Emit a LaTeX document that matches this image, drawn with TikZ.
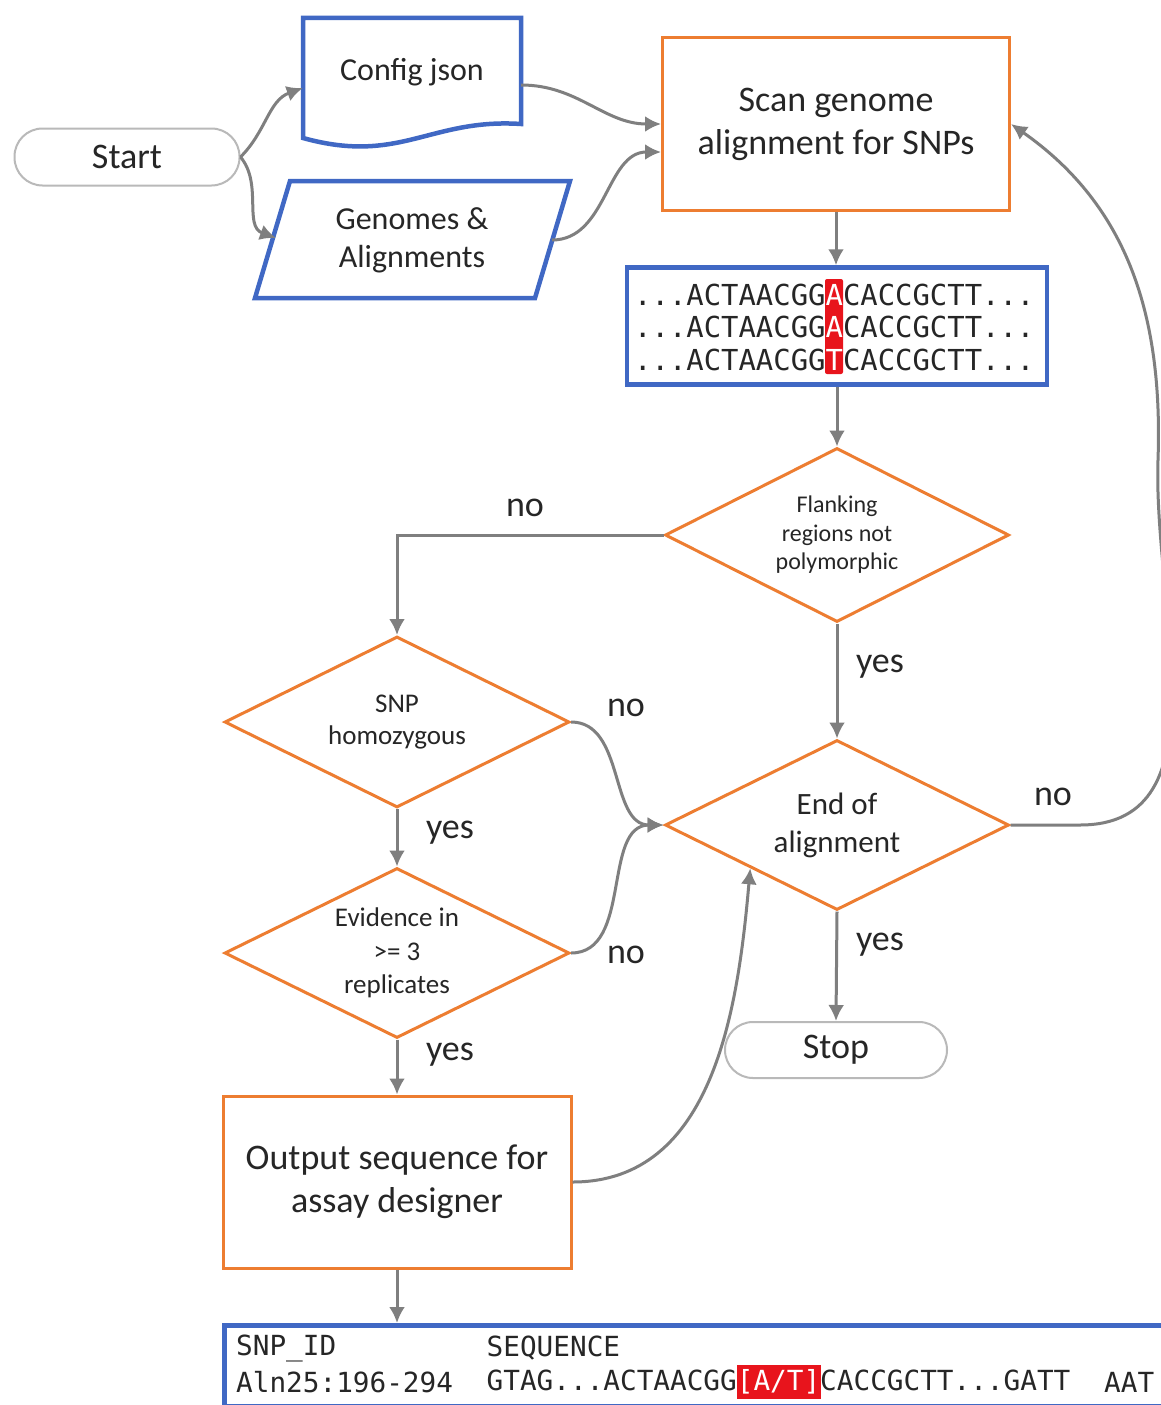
\documentclass[tikz,border=0pt]{standalone}
\usepackage{fontspec}
\setmainfont{Carlito}
\setmonofont{DejaVu Sans Mono}
\usetikzlibrary{shapes.geometric,arrows.meta}

\definecolor{boxorange}{HTML}{ED7D31}
\definecolor{boxblue}{HTML}{4068C4}
\definecolor{linegray}{HTML}{7F7F7F}
\definecolor{snpred}{HTML}{E8141C}

\tikzset{
  flow/.style={draw=linegray, line width=3pt, -{Latex[length=16pt,width=16pt]}},
  terminal/.style={draw=gray!55, line width=2pt, rounded corners=28pt, minimum width=225pt,
    minimum height=57pt, font=\fontsize{36}{40}\selectfont},
  process/.style={draw=boxorange, line width=3pt, minimum width=347pt, minimum height=173pt,
    align=center, font=\fontsize{36}{43}\selectfont},
  decision/.style={diamond, aspect=2, draw=boxorange, line width=3pt, minimum width=345pt,
    minimum height=171pt, inner sep=0pt, align=center},
  iobox/.style={draw=boxblue, line width=4.5pt},
  seqtext/.style={font=\ttfamily\fontsize{28.9}{32}\selectfont, inner sep=0pt, anchor=west},
  restext/.style={font=\ttfamily\fontsize{27.7}{32}\selectfont, inner sep=0pt, anchor=west},
  lbl/.style={font=\fontsize{36}{40}\selectfont},
}

\begin{document}
\begin{tikzpicture}[x=1pt,y=-1pt, every node/.append style={text=black!85}]
\useasboundingbox (0,0) rectangle (1161,1405);
\clip (0,0) rectangle (1161,1405);
\fill[white] (0,0) rectangle (1161,1405);

% inputs
\node[terminal] (start) at (127,157) {Start};
\node[font=\fontsize{32}{38}\selectfont, minimum width=218pt, inner sep=0pt] (cfg) at (412,72) {Config json};
\draw[iobox] (303,18) -- (521,18) -- (521,124) .. controls (430,118) and (400,165) .. (303,138) -- cycle;
\node[font=\fontsize{32}{38}\selectfont, align=center] (gen) at (412,240) {Genomes \&\\Alignments};
\draw[iobox] (255,298) -- (290,181) -- (570,181) -- (535,298) -- cycle;
\coordinate (genin) at (276,238);
\coordinate (genout) at (552,240);

% scanning
\node[process] (scan) at (836,124) {Scan genome\\alignment for SNPs};
\node[iobox, minimum width=420pt, minimum height=117pt] (aln) at (837,326) {};
\fill[snpred, rounded corners=2pt] (825,279) rectangle (843,374);
\node[seqtext] (alnA) at (634,295) {...ACTAACGG\textcolor{white}{A}CACCGCTT...};
\node[seqtext] (alnB) at (634,327) {...ACTAACGG\textcolor{white}{A}CACCGCTT...};
\node[seqtext] (alnC) at (634,360) {...ACTAACGG\textcolor{white}{T}CACCGCTT...};

% decisions
\node[decision, minimum width=344pt, minimum height=174pt, font=\fontsize{24}{28.5}\selectfont]
  (flank) at (837,535) {Flanking\\regions not\\polymorphic};
\node[decision, font=\fontsize{27}{32}\selectfont] (snp) at (397,722) {SNP\\homozygous};
\node[decision, minimum width=344pt, minimum height=170pt, font=\fontsize{31}{38}\selectfont]
  (endaln) at (837,825) {End of\\alignment};
\node[decision, minimum height=170pt, font=\fontsize{27}{33.5}\selectfont]
  (evid) at (397,953) {Evidence in\\>= 3\\replicates};

% outputs
\node[terminal, minimum width=222pt, minimum height=56pt] (stop) at (836,1050) {Stop};
\node[process, minimum width=348pt, minimum height=172pt] (out) at (397,1182) {Output sequence for\\assay designer};
\node[iobox, anchor=north west, minimum width=1000pt, minimum height=81pt] (res) at (222,1323) {};
\node[restext] (hdrid) at (236,1348) {SNP\_ID};
\node[restext] (hdrseq) at (486.5,1348) {SEQUENCE};
\node[restext] (rowid) at (236,1382) {Aln25:196-294};
\fill[snpred] (737,1365) rectangle (821,1399);
\node[restext] (rowseq) at (486.5,1382) {GTAG...ACTAACGG\textcolor{white}{[A/T]}CACCGCTT...GATT};
\node[restext] (rowtail) at (1104,1382) {AAT};

% connectors
\draw[flow] (start.east) to[out=45,in=200] ([yshift=-16pt]cfg.west);
\draw[flow] (start.east) to[out=-50,in=160] (genin);
\draw[flow] ([yshift=-13pt]cfg.east) to[out=0,in=180] (scan.west);
\draw[flow] (genout) to[out=0,in=180] ([yshift=-28pt]scan.west);
\draw[flow] (scan.south) -- (scan.south |- aln.north);
\draw[flow] (aln.south) -- (aln.south -| flank.north) -- (flank.north);
\draw[flow] (flank.west) -| (snp.north);
\draw[flow] (flank.south) -- (endaln.north);
\draw[flow] (snp.east) to[out=0,in=180] (endaln.west);
\draw[flow] (snp.south) -- (evid.north);
\draw[flow] (evid.east) to[out=0,in=180] (endaln.west);
\draw[flow] (evid.south) -- (out.north);
\draw[flow] (out.east) to[out=0,in=-95] (endaln.south west);
\draw[flow] (endaln.east) -- (1080,825) to[out=0,in=-92] (1158,460) to[out=88,in=-35] (scan.east);
\draw[flow] (endaln.south) -- (stop.north);
\draw[flow] (out.south) -- (out.south |- res.north);

% labels
\node[lbl] (noflank) at (525,508) {no};
\node[lbl] (yesflank) at (880,667) {yes};
\node[lbl] (nosnp) at (626,708) {no};
\node[lbl] (yessnp) at (450,833) {yes};
\node[lbl] (noevid) at (626,955) {no};
\node[lbl] (yesevid) at (450,1055) {yes};
\node[lbl] (noend) at (1053,797) {no};
\node[lbl] (yesend) at (880,945) {yes};
\end{tikzpicture}
\end{document}
